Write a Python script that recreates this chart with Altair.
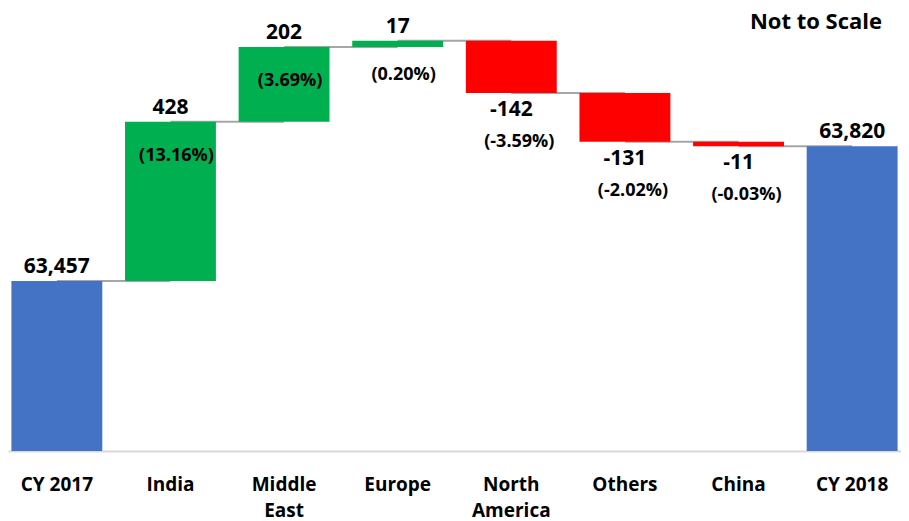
import altair as alt
import pandas as pd

categories = ["CY 2017", "India", "Middle|East", "Europe", "North|America", "Others", "China", "CY 2018"]
values = [63457, 428, 202, 17, -142, -131, -11, 63820]
value_labels = ["63,457", "428", "202", "17", "-142", "-131", "-11", "63,820"]
pct_labels = ["", "(13.16%)", "(3.69%)", "(0.20%)", "(-3.59%)", "(-2.02%)", "(-0.03%)", ""]
kinds = ["total", "up", "up", "up", "down", "down", "down", "total"]
# chart is "Not to Scale": visual bar extents (display units 0-100)
display_start = [0, 38.4, 74.3, 91.2, 92.6, 80.8, 69.8, 0]
display_end = [38.4, 74.3, 91.2, 92.6, 80.8, 69.8, 68.8, 68.8]

df = pd.DataFrame({
    "cat": categories, "value": values, "vlabel": value_labels,
    "plabel": pct_labels, "kind": kinds,
    "start": display_start, "end": display_end,
})
conn = pd.DataFrame({
    "cat": categories[:-1], "next": categories[1:], "level": display_end[:-1],
})

FONT = "Open Sans"
xaxis = alt.Axis(labelAngle=0, ticks=False, domainColor="#D9D9D9", domainWidth=2,
                 labelFont=FONT, labelFontSize=19, labelFontWeight="bold",
                 labelColor="black", labelPadding=24, labelLineHeight=26,
                 labelAlign="center", labelBaseline="top",
                 labelExpr="split(datum.label, '|')", grid=False)
xscale = alt.Scale(paddingInner=0.2, paddingOuter=0.03)


def X():
    return alt.X("cat:N", sort=categories, title=None, scale=xscale, axis=xaxis)


yscale = alt.Scale(domain=[0, 100])


def Y(field):
    return alt.Y(field, scale=yscale, axis=None, title=None)


base = alt.Chart(df)

rules = alt.Chart(conn).mark_rule(color="#A6A6A6", strokeWidth=2).encode(
    x=X(), x2="next:N", y=Y("level:Q"),
)

bars = base.mark_bar().encode(
    x=X(), y=Y("start:Q"), y2="end:Q",
    color=alt.Color("kind:N", legend=None,
                    scale=alt.Scale(domain=["total", "up", "down"],
                                    range=["#4472C4", "#00B050", "#FF0000"])),
)

tstyle = dict(font=FONT, fontWeight="bold", color="black", baseline="middle")

top_lbl = base.transform_filter("datum.kind != 'down'").mark_text(
    fontSize=21, dy=-14, **tstyle).encode(x=X(), y=Y("end:Q"), text="vlabel:N")
bot_lbl = base.transform_filter("datum.kind == 'down'").mark_text(
    fontSize=21, dy=17, **tstyle).encode(x=X(), y=Y("end:Q"), text="vlabel:N")
pct_up = base.transform_filter("datum.kind == 'up'").mark_text(
    fontSize=18, dy=34, dx=6, **tstyle).encode(x=X(), y=Y("end:Q"), text="plabel:N")
pct_dn = base.transform_filter("datum.kind == 'down'").mark_text(
    fontSize=18, dy=49, dx=8, **tstyle).encode(x=X(), y=Y("end:Q"), text="plabel:N")

note = alt.Chart(pd.DataFrame({"t": ["Not to Scale"]})).mark_text(
    fontSize=22, align="center", **tstyle).encode(
    x=alt.value(808), y=alt.value(14), text="t:N")

chart = alt.layer(rules, bars, top_lbl, bot_lbl, pct_up, pct_dn, note).properties(
    width=893, height=443, padding=0,
).configure_view(strokeWidth=0, stroke="transparent").configure_axisY(
    domain=False, ticks=False, labels=False, grid=False
)

chart.save("out.html", embed_options={"renderer": "svg", "actions": False})
